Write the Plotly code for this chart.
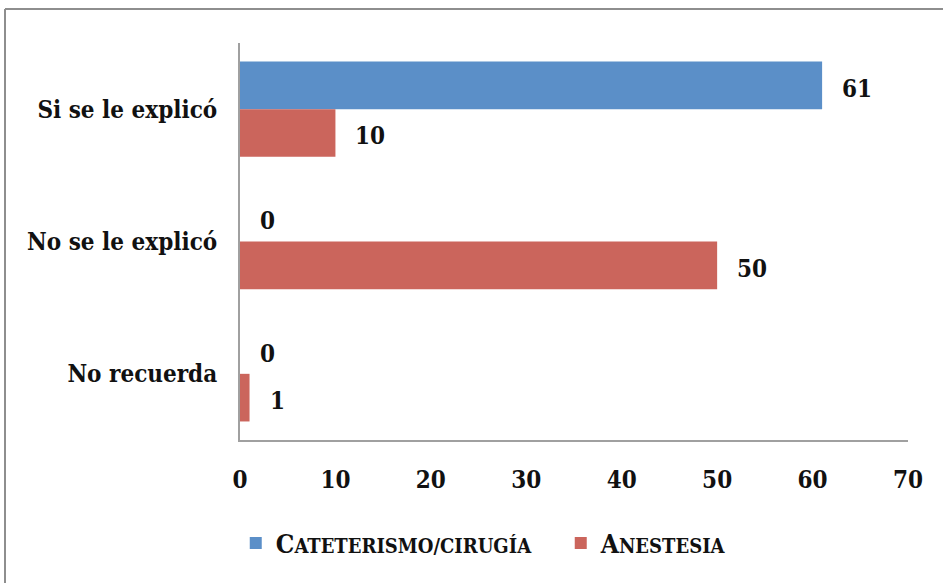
import plotly.graph_objects as go

# Categories (top to bottom) and series values
categories = ["Si se le explicó", "No se le explicó", "No recuerda"]
cateterismo = [61, 0, 0]
anestesia = [10, 50, 1]
series_names = ["Cateterismo/cirugía", "Anestesia"]
x_ticks = [0, 10, 20, 30, 40, 50, 60, 70]

BLUE = "#5B8FC8"
RED = "#CB655C"
FONT = "DejaVu Serif Condensed, Liberation Serif, serif"
W, H = 943, 583
ML, MR, MT, MB = 240, 35, 43, 143
BARGAP = 0.28
TXT = 24


def small_caps(name, small=20):
    first, rest = name[0], name[1:]
    return f"{first.upper()}<span style='font-size:{small}px'>{rest.upper()}</span>"


fig = go.Figure()
for name, vals, color in [(series_names[0], cateterismo, BLUE),
                          (series_names[1], anestesia, RED)]:
    fig.add_trace(go.Bar(
        y=categories, x=vals, orientation="h", name=small_caps(name),
        marker=dict(color=color, line=dict(width=0)),
    ))

# value labels next to each bar; group offset follows bar width
half = (1 - BARGAP) / 4
for s, vals in enumerate([cateterismo, anestesia]):
    off = -half if s == 0 else half
    for i, v in enumerate(vals):
        fig.add_annotation(
            x=v, y=i + off, xref="x", yref="y", text=f"<b>{v}</b>",
            showarrow=False, xanchor="left", yanchor="middle",
            xshift=18, yshift=-3,
            font=dict(family=FONT, size=TXT, color="#111111"),
        )

# outer frame (top and left edges visible)
px = lambda p: (p - ML) / (W - ML - MR)
py = lambda p: (H - MB - p) / (H - MT - MB)
fig.add_shape(type="line", xref="paper", yref="paper",
              x0=px(5), x1=px(W + 5), y0=py(9), y1=py(9),
              line=dict(color="#8E8E8E", width=2))
fig.add_shape(type="line", xref="paper", yref="paper",
              x0=px(5), x1=px(5), y0=py(9), y1=py(H + 5),
              line=dict(color="#8E8E8E", width=2))

fig.update_layout(
    width=W, height=H,
    margin=dict(l=ML, r=MR, t=MT, b=MB),
    paper_bgcolor="white", plot_bgcolor="white",
    barmode="group", bargap=BARGAP, bargroupgap=0,
    font=dict(family=FONT, size=TXT, color="#111111", weight="bold"),
    showlegend=True,
    legend=dict(
        orientation="h", xref="container", yref="container",
        x=0.25, y=(H - 543) / H, xanchor="left", yanchor="middle",
        font=dict(family=FONT, size=26, color="#111111", weight="bold"),
        entrywidth=280, traceorder="normal",
        bgcolor="rgba(0,0,0,0)",
    ),
    xaxis=dict(
        range=[0, 70], tickvals=x_ticks, showgrid=False, zeroline=False,
        showline=True, linecolor="#A0A0A0", linewidth=2,
        ticks="", ticklabelstandoff=17,
        tickfont=dict(family=FONT, size=TXT, color="#111111", weight="bold"),
        fixedrange=True,
    ),
    yaxis=dict(
        autorange="reversed", showgrid=False, zeroline=False,
        showline=True, linecolor="#A0A0A0", linewidth=2,
        ticks="", ticklabelstandoff=16,
        tickfont=dict(family=FONT, size=TXT, color="#111111", weight="bold"),
        fixedrange=True,
    ),
)

fig.write_html("out.html")
